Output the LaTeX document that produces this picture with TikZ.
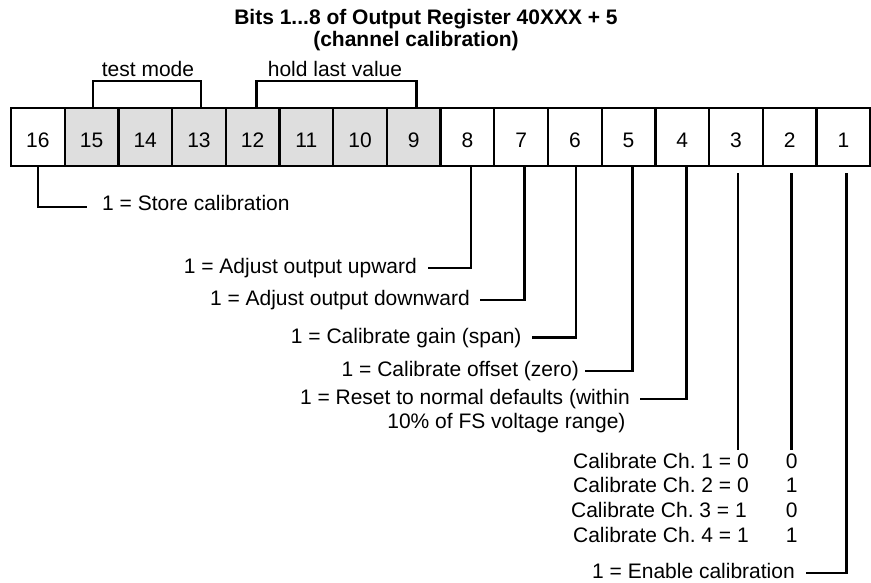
\documentclass[tikz,border=0pt]{standalone}
\usepackage{fontspec}
\setmainfont{Liberation Sans}
\begin{document}
\frenchspacing
\begin{tikzpicture}[x=1pt,y=-1pt,
  every node/.style={font=\fontsize{21}{25}\selectfont\frenchspacing},
  bitbox/.style={draw, line width=2.3pt, minimum width=53.7pt, minimum height=58pt,
    inner sep=0pt, text height=21pt, text depth=0pt},
  shaded/.style={fill=black!13},
  lbl/.style={inner sep=0pt, text height=15pt, text depth=4pt},
  ttl/.style={inner sep=0pt, anchor=base, font=\fontsize{21}{25}\selectfont\bfseries},
  conn/.style={line width=2.5pt}
]
\useasboundingbox (0,0) rectangle (871,583);

% title
\node[ttl] (title1) at (426,25) {Bits 1...8 of Output Register 40XXX + 5};
\node[ttl] (title2) at (416,47) {(channel calibration)};

% register boxes
\foreach \b in {16,8,7,6,5,4,3,2,1} {
  \pgfmathsetmacro\xx{11+53.7*(16-\b+0.5)}
  \node[bitbox] (b\b) at (\xx,137) {\b};
}
\foreach \b in {15,14,13,12,11,10,9} {
  \pgfmathsetmacro\xx{11+53.7*(16-\b+0.5)}
  \node[bitbox, shaded] (b\b) at (\xx,137) {\b};
}

% brackets
\node[inner sep=0pt, anchor=base] (tm) at (148,77) {test mode};
\node[inner sep=0pt, anchor=base] (hl) at (335,77) {hold last value};
\draw[conn] ([xshift=1.6pt]b15.north) -- ++(0,-26) -| ([xshift=2pt]b13.north);
\draw[conn] ([xshift=4pt]b12.north) -- ++(0,-26) -| ([xshift=2.5pt]b9.north);

% labels
\node[lbl, anchor=west] (t16) at (102,205) {1 = Store calibration};
\node[lbl, anchor=east] (t8) at (417,268) {1 = Adjust output upward};
\node[lbl, anchor=east] (t7) at (470,300) {1 = Adjust output downward};
\node[lbl, anchor=east] (t6) at (521.7,337.7) {1 = Calibrate gain (span)};
\node[lbl, anchor=east] (t5) at (579,371) {1 = Calibrate offset (zero)};
\node[lbl, anchor=east] (t4) at (630,399) {1 = Reset to normal defaults (within};
\node[lbl, anchor=east] (t4b) at (625.7,423) {10\% of FS voltage range)};
\node[lbl, anchor=east] (r1) at (749,463) {Calibrate Ch. 1 = 0};
\node[lbl, anchor=east] (r2) at (749,487) {Calibrate Ch. 2 = 0};
\node[lbl, anchor=east] (r3) at (747,512) {Calibrate Ch. 3 = 1};
\node[lbl, anchor=east] (r4) at (749,537) {Calibrate Ch. 4 = 1};
\node[lbl] (c1) at (791.7,463) {0};
\node[lbl] (c2) at (791.7,487) {1};
\node[lbl] (c3) at (791.7,512) {0};
\node[lbl] (c4) at (791.7,537) {1};
\node[lbl, anchor=east] (t1) at (795,573) {1 = Enable calibration};

% connectors
\draw[conn] (b16.south) |- ([xshift=-15pt,yshift=-2pt]t16.west);
\draw[conn] ([xshift=3.4pt]b8.south) |- ([xshift=11pt]t8.east);
\draw[conn] ([xshift=3.5pt]b7.south) |- ([xshift=10pt]t7.east);
\draw[conn] ([xshift=1pt]b6.south) |- ([xshift=10pt]t6.east);
\draw[conn] ([xshift=4pt]b5.south) |- ([xshift=6pt]t5.east);
\draw[conn] ([xshift=4pt]b4.south) |- ([xshift=10pt]t4.east);
\draw[conn] ([xshift=2pt,yshift=-6pt]b3.south) -- ([xshift=2pt,yshift=3pt]b3.south |- r1.north);
\draw[conn] ([xshift=1.7pt,yshift=-6pt]b2.south) -- ([xshift=1.7pt,yshift=3pt]b2.south |- c1.north);
\draw[conn] ([xshift=3pt,yshift=-6pt]b1.south) |- ([xshift=11pt]t1.east);
\end{tikzpicture}
\end{document}
